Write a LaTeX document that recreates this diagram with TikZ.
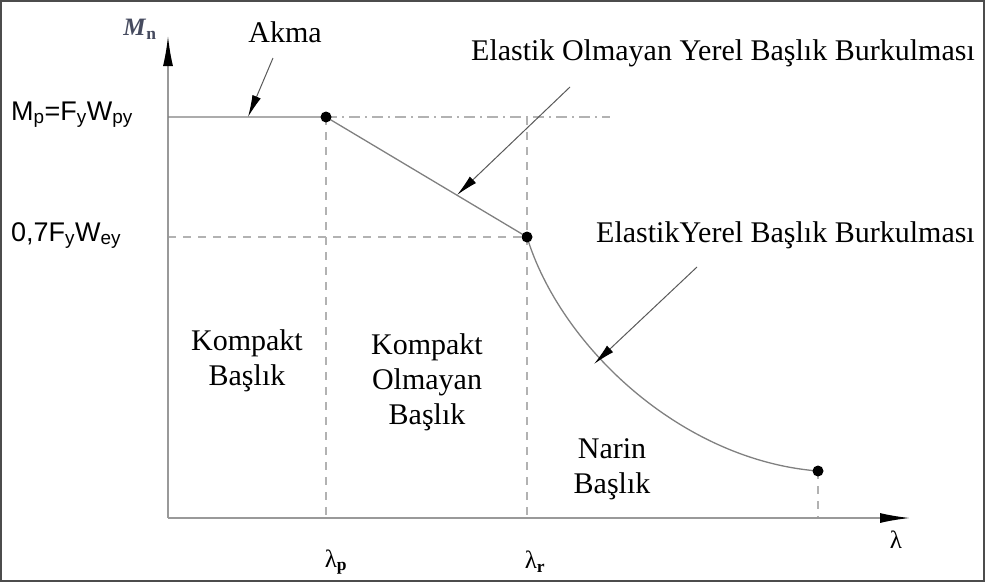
\documentclass[tikz,border=0pt]{standalone}
\usepackage{fontspec}
\setmainfont{Liberation Serif}
\newfontfamily\arialfont{Liberation Sans}
\usetikzlibrary{arrows.meta, positioning}
\definecolor{slate}{RGB}{70,75,95}

\begin{document}
\begin{tikzpicture}[x=1pt, y=-1pt,
        axis/.style={draw=black!40, line width=1.6pt, -{Latex[length=30pt, width=10pt, color=black]}},
        curve/.style={draw=black!50, line width=1.3pt},
        guide/.style={draw=black!30, line width=1.2pt, dash pattern=on 8pt off 7pt},
        guidedot/.style={draw=black!30, line width=1.2pt, dash pattern=on 11pt off 5pt on 2pt off 5pt},
        pointer/.style={draw=black!65, line width=1pt, -{Latex[length=22pt, width=9pt, color=black]}},
        dot/.style={circle, fill=black, inner sep=0pt, minimum size=11pt},
        lbl/.style={font=\fontsize{30}{35}\selectfont, align=center, inner sep=0pt},
        sym/.style={font=\fontsize{25}{28}\selectfont, inner sep=0pt},
        val/.style={font=\arialfont\fontsize{27}{30}\selectfont, inner sep=0pt, anchor=base west}
        ]
        \useasboundingbox (0,0) rectangle (985,582);
        \draw[black!70, line width=2pt] (1,1) rectangle (984,581);
        % key points
        \coordinate (O) at (168,518);
        \coordinate (ytop) at (168,36);
        \coordinate (xend) at (910,518);
        \coordinate (mp) at (168,117);
        \coordinate (p) at (326,117);
        \coordinate (r) at (527,237);
        \coordinate (e) at (818,471);
        \coordinate (mpend) at (610,117);
        % guide lines
        \draw[guidedot] (p) -- (mpend);
        \draw[guide] (p) -- (p |- O);
        \draw[guide] (r |- p) -- (r |- O);
        \draw[guide] (O |- r) -- (r);
        \draw[guide] (e) -- (e |- O);
        % axes
        \draw[axis] (O) -- (ytop);
        \draw[axis] (O) -- (xend);
        % capacity curve
        \draw[curve] (mp) -- (p) -- (r) .. controls (560,345) and (680,460) .. (e);
        \node[dot] (pdot) at (p) {};
        \node[dot] (rdot) at (r) {};
        \node[dot] (edot) at (e) {};
        % axis labels
        \node[font=\fontsize{25}{26}\selectfont, inner sep=0pt, text=slate] (mn) at (140,29) {\textit{\textbf{M}}\textsubscript{\textbf{n}}};
        \node[sym] (lam) at (896,540) {λ};
        \node[sym] (lamp) at (336,562) {λ\textsubscript{\textbf{p}}};
        \node[sym] (lamr) at (535,562) {λ\textsubscript{\textbf{r}}};
        \node[val] (mpval) at (11,120) {M\textsubscript{p}=F\textsubscript{y}W\textsubscript{py}};
        \node[val] (mrval) at (11,241) {0,7F\textsubscript{y}W\textsubscript{ey}};
        % region labels
        \node[lbl] (kompakt) at (247,361) {Kompakt\\Başlık};
        \node[lbl] (kompaktol) at (427,382) {Kompakt\\Olmayan\\Başlık};
        \node[lbl] (narin) at (612,469) {Narin\\Başlık};
        % callouts
        \node[lbl] (akma) at (285,32) {Akma};
        \node[lbl, anchor=east] (inelastic) at (975,53) {Elastik Olmayan Yerel Başlık Burkulması};
        \node[lbl, anchor=east] (elastic) at (975,235) {ElastikYerel Başlık Burkulması};
        \coordinate (akmaA) at (273,58);
        \coordinate (akmaB) at (248,117);
        \coordinate (inelA) at (570,87);
        \coordinate (inelB) at (457,195);
        \coordinate (elA) at (697,267);
        \coordinate (elB) at (594,364);
        \draw[pointer] (akmaA) -- (akmaB);
        \draw[pointer] (inelA) -- (inelB);
        \draw[pointer] (elA) -- (elB);
    \end{tikzpicture}
\end{document}
